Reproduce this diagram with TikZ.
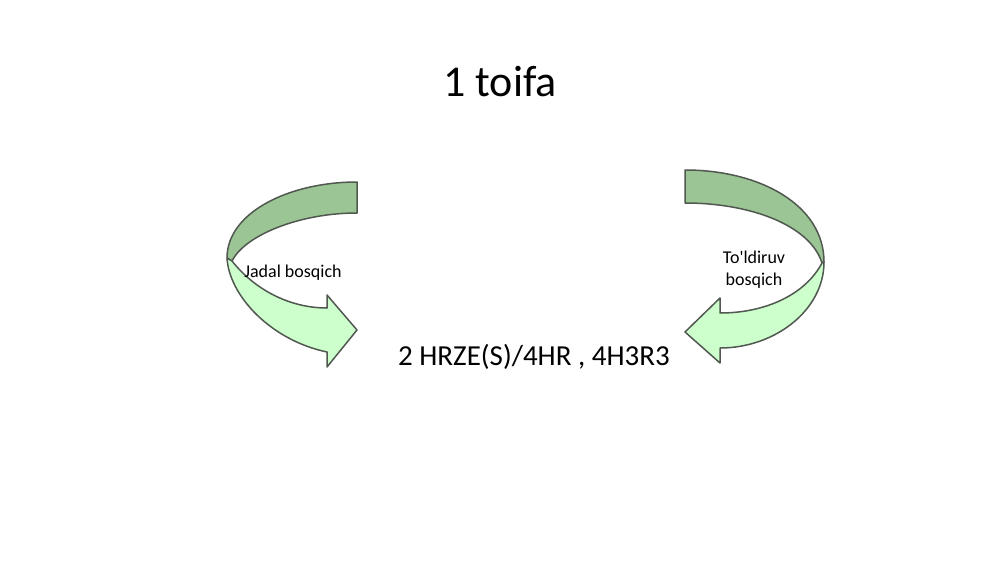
\documentclass[tikz,border=0pt]{standalone}
\usepackage{fontspec}
\setmainfont{Carlito}
\usetikzlibrary{positioning}
\definecolor{bandback}{RGB}{155,197,148}
\definecolor{bandfront}{RGB}{204,255,204}
\definecolor{bandedge}{RGB}{80,88,80}

\begin{document}
\begin{tikzpicture}[x=1pt, y=-1pt,
    band/.style={draw=bandedge, line width=1.5pt, line join=round},
    phase/.style={font=\fontsize{18}{22}\selectfont, align=center, inner sep=0pt}]
    \useasboundingbox (0,0) rectangle (1000,562);

    % Titre
    \node[font=\fontsize{44}{52}\selectfont, anchor=base] (title) at (500,96) {1 toifa};

    % === Fleche gauche ===
    % partie arriere
    \draw[band, fill=bandback] (357,182) .. controls (290,182) and (227,212) .. (227,258)
        -- (232,261) .. controls (245,235) and (300,213) .. (357,213) -- cycle;
    % partie avant
    \draw[band, fill=bandfront] (227,258) .. controls (229,295) and (270,340) .. (327,352)
        -- (327,367) -- (357,330) -- (327,295) -- (327,308)
        .. controls (290,308) and (255,290) .. (232,261) -- cycle;
    \node[phase, anchor=base] (fastlbl) at (293,277) {Jadal bosqich};

    % === Fleche droite ===
    % partie arriere
    \draw[band, fill=bandback] (685,170) .. controls (760,170) and (824,205) .. (824,262)
        -- (822,263) .. controls (810,225) and (750,203) .. (685,203) -- cycle;
    % partie avant
    \draw[band, fill=bandfront] (824,262) .. controls (824,310) and (775,348) .. (720,348)
        -- (720,363) -- (685,332) -- (720,298) -- (720,313)
        .. controls (765,313) and (805,295) .. (822,263) -- cycle;
    \node[phase, anchor=base] (contlbl) at (754,285) {To\textquotesingle ldiruv\\bosqich};

    % Schema
    \node[font=\fontsize{29}{34}\selectfont, anchor=base] (regimen) at (534,365) {2 HRZE(S)/4HR , 4H3R3};
\end{tikzpicture}
\end{document}
